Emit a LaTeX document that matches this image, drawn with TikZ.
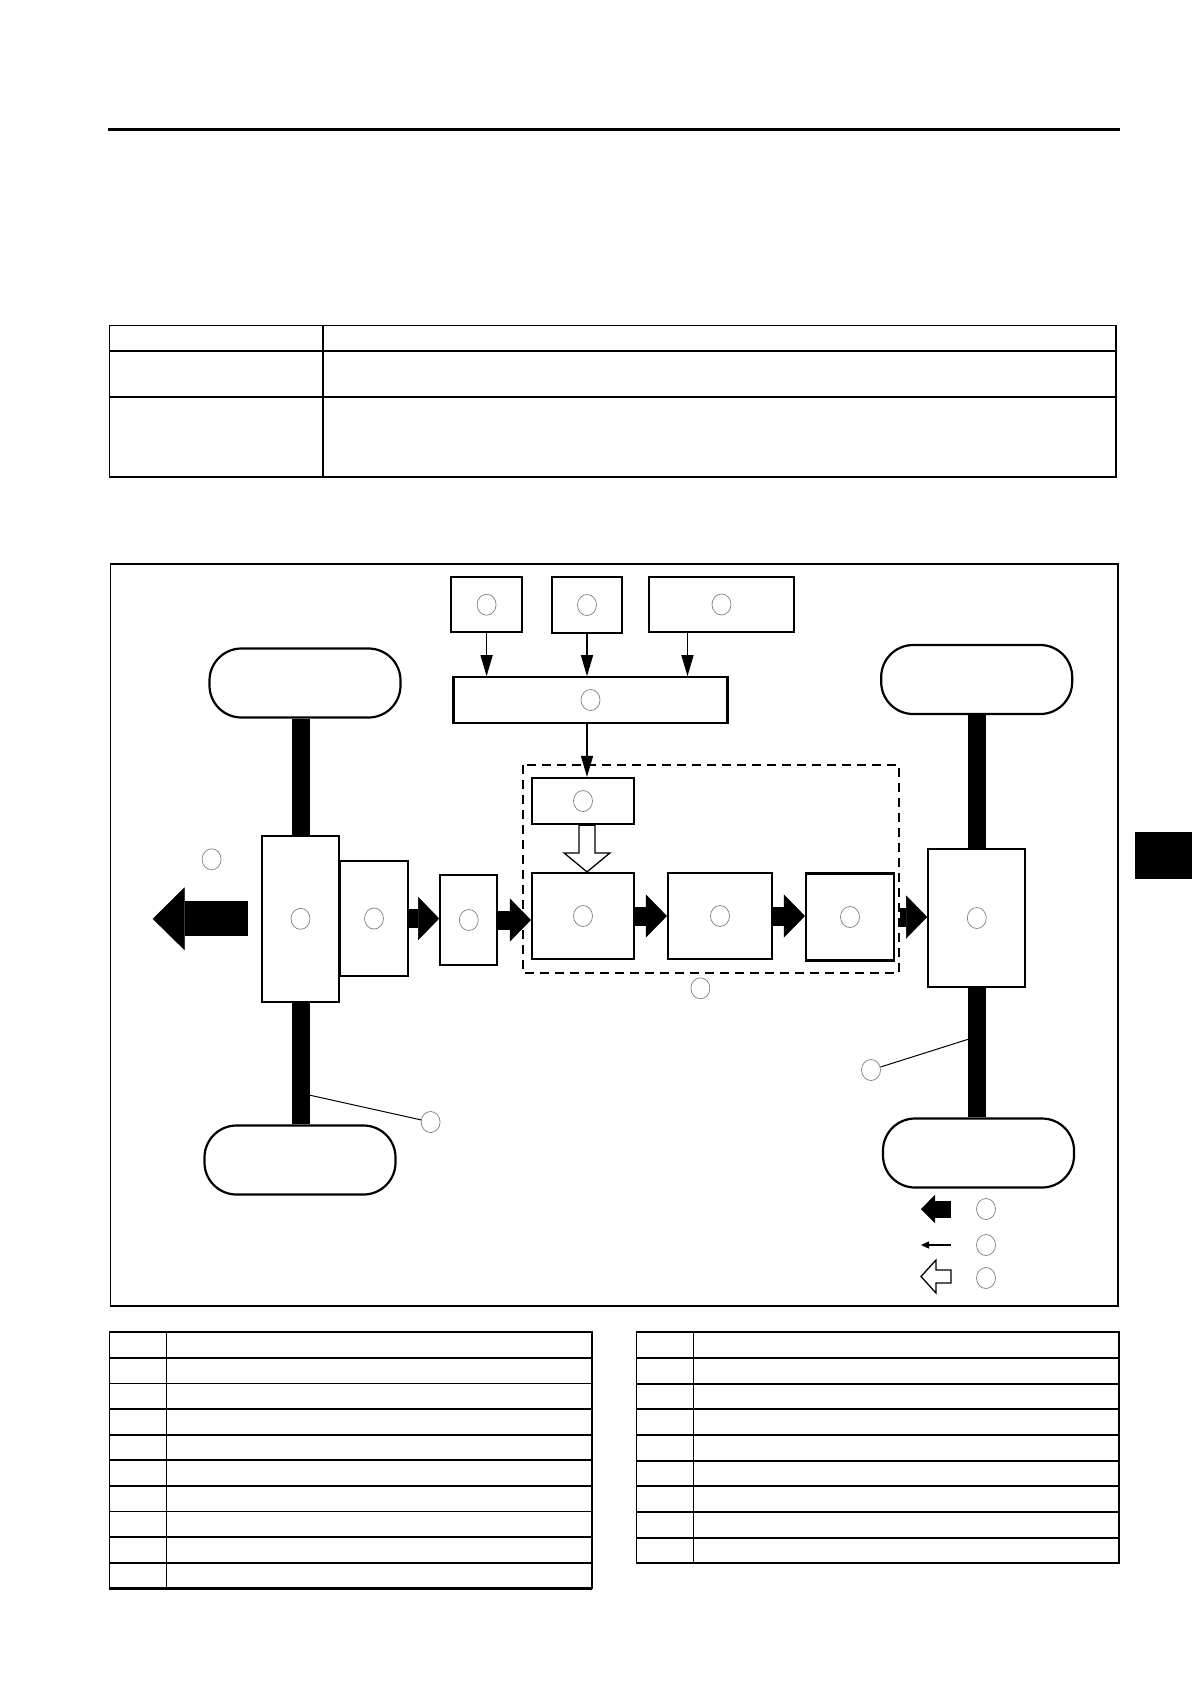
\documentclass[tikz,border=0pt]{standalone}
\usepackage{tikz}
\usetikzlibrary{arrows.meta,shapes.geometric,calc}

\begin{document}
\begin{tikzpicture}[x=1pt,y=-1pt,
    box/.style={draw,line width=2.2pt,fill=white,inner sep=0pt},
    tire/.style={draw,line width=2.2pt,rounded corners=32pt,minimum width=191pt,minimum height=69pt,inner sep=0pt},
    tag/.style={ellipse,draw=black!50,line width=0.7pt,minimum width=19pt,minimum height=21pt,inner sep=0pt},
    axle/.style={line width=18pt},
    flow/.style={line width=19pt,-{Triangle[length=21pt,width=43pt,line width=0.5pt]}},
    bigflow/.style={line width=35pt,-{Triangle[length=32pt,width=63pt,line width=0.5pt]}},
    signal/.style={line width=1.3pt,-{Triangle[length=21pt,width=12pt]}},
    lead/.style={line width=1pt}]
\fill[white] (0,0) rectangle (1192,1684);
\useasboundingbox (0,0) rectangle (1192,1684);

\draw[line width=3pt] (108,129) -- (1120,129);
\fill (1135,832) rectangle (1192,879);

\draw[line width=1.8pt] (109.5,325.4) rectangle (1116,477);
\draw[line width=1.8pt] (109.5,351) -- (1116,351) (109.5,397) -- (1116,397) (323,325.4) -- (323,477);

\draw[line width=1.5pt] (110.6,564) rectangle (1118,1306);

\node[box,minimum width=70.7pt,minimum height=54.7pt] (A) at (486.6,604.7) {};
\node[box,minimum width=70.5pt,minimum height=55.4pt] (B) at (587,605) {};
\node[box,minimum width=145pt,minimum height=55pt] (C) at (721.5,604.5) {};
\node[box,minimum width=274pt,minimum height=45.4pt] (D) at (590.5,700) {};
\draw[signal] (A.south) -- (A.south |- D.north);
\draw[signal] (B.south) -- (B.south |- D.north);
\draw[signal] ([xshift=-34pt]C.south) -- ([xshift=-34pt]C.south |- D.north);

\draw[line width=1.8pt,dash pattern=on 9pt off 6pt] (522.8,765) rectangle (899.3,972.7);

\node[box,minimum width=102pt,minimum height=46pt] (E) at (583,801) {};
\node[box,minimum width=102pt,minimum height=86pt] (F) at (583,916) {};
\node[box,minimum width=104pt,minimum height=86pt] (G) at (720,916) {};
\node[box,minimum width=88pt,minimum height=87pt] (H) at (850,917) {};
\node[box,minimum width=97pt,minimum height=138.6pt] (I) at (976.8,918) {};
\node[box,minimum width=77.7pt,minimum height=165.7pt] (J) at (300.5,918.8) {};
\node[box,minimum width=68pt,minimum height=115pt] (K) at (374,918.5) {};
\node[box,minimum width=57pt,minimum height=90pt] (L) at (468.8,920) {};
\draw[signal] (D.south -| B.south) -- (E.north -| B.south);

\draw[line width=1.3pt,fill=white] ($(E.south -| B.south)+(-8,0)$) -- ($(E.south -| B.south)+(8,0)$)
  -- ($(F.north -| B.south)+(8,-19)$) -- ($(F.north -| B.south)+(23,-19)$) -- (F.north -| B.south)
  -- ($(F.north -| B.south)+(-23,-19)$) -- ($(F.north -| B.south)+(-8,-19)$) -- cycle;

\draw[flow] (K.east) -- (K.east -| L.west);
\draw[flow] (L.east) -- (L.east -| F.west);
\draw[flow] (F.east) -- (F.east -| G.west);
\draw[flow] (G.east) -- (G.east -| H.west);
\draw[flow,shorten <=5pt] (H.east) -- (H.east -| I.west);

\coordinate (out) at (152.7,918);
\draw[bigflow,shorten <=13pt] (J.west) -- (J.west -| out);

\node[tire] (fl) at (305,683) {};
\node[tire] (rl) at (300,1160) {};
\node[tire] (fr) at (976.7,679.5) {};
\node[tire] (rr) at (978.5,1153) {};
\draw[axle] (J.north) -- (J.north |- fl.south);
\draw[axle] (J.south) -- (J.south |- rl.north);
\draw[axle] (I.north) -- (I.north |- fr.south);
\draw[axle] (I.south) -- (I.south |- rr.north);

\node[tag] at (A) {};
\node[tag] at (B) {};
\node[tag] at (C) {};
\node[tag] at (D) {};
\node[tag] at (E) {};
\node[tag] at (F) {};
\node[tag] at (G) {};
\node[tag] at (H) {};
\node[tag] at (I) {};
\node[tag] at (J) {};
\node[tag] at (K) {};
\node[tag] at (L) {};
\node[tag] (tout) at (211.6,859.3) {};
\node[tag] (tgrp) at (700.4,988.3) {};
\node[tag] (tlx) at (430.6,1122) {};
\node[tag] (trx) at (871,1070) {};
\coordinate (plx) at (309,1095);
\coordinate (prx) at (969,1039);
\draw[lead] (tlx) -- (plx);
\draw[lead] (trx) -- (prx);

\draw[line width=17pt,-{Triangle[length=14pt,width=28pt,line width=0.5pt]}] (951,1209) -- (921,1209);
\draw[line width=1.3pt,-{Triangle[length=8pt,width=7pt]}] (951,1245) -- (921,1245);
\draw[line width=1.3pt,fill=white] (951,1270) -- (936,1270) -- (936,1260) -- (921,1276.5)
  -- (936,1293) -- (936,1283) -- (951,1283) -- cycle;
\node[tag] (k1) at (986,1209) {};
\node[tag] (k2) at (986,1245) {};
\node[tag] (k3) at (986,1278) {};

\draw[line width=1.8pt] (109.4,1332.3) rectangle (591.6,1588.3);
\foreach \r in {1,...,9}
  \draw[line width=1.8pt] (109.4,1332.3+25.6*\r) -- (591.6,1332.3+25.6*\r);
\draw[line width=3pt] (109.4,1588.3) -- (591.6,1588.3);
\draw[line width=1pt] (166.3,1332.3) -- (166.3,1588.3);

\draw[line width=1.8pt] (636.5,1332.3) rectangle (1118.7,1563.3);
\foreach \r in {1,...,8}
  \draw[line width=1.8pt] (636.5,1332.3+25.67*\r) -- (1118.7,1332.3+25.67*\r);
\draw[line width=1pt] (693.4,1332.3) -- (693.4,1563.3);
\end{tikzpicture}
\end{document}
